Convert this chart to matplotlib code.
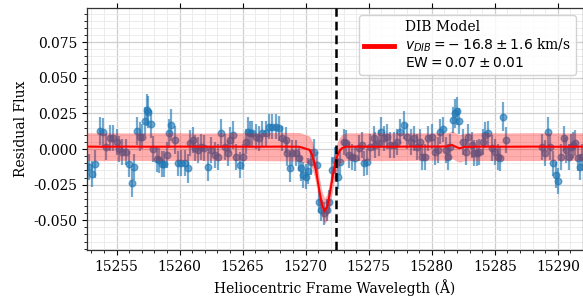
import numpy as np
import matplotlib
matplotlib.use("Agg")
import matplotlib.pyplot as plt
from matplotlib.ticker import MultipleLocator, FormatStrFormatter

# residual flux data points
wave = [15252.80, 15253.07, 15253.28, 15253.68, 15253.94, 15254.15, 15254.47, 15254.73,
        15255.00, 15255.20, 15255.44, 15255.71, 15255.97, 15256.19, 15256.40, 15256.59,
        15256.85, 15257.03, 15257.24, 15257.40, 15257.50, 15257.72, 15257.90, 15258.17,
        15258.35, 15258.57, 15258.77, 15258.96, 15259.15, 15259.33, 15259.60, 15259.86,
        15260.12, 15260.39, 15260.65, 15260.85, 15261.05, 15261.18, 15261.44, 15261.71,
        15261.97, 15262.24, 15262.50, 15262.77, 15263.03, 15263.29, 15263.56, 15263.82,
        15263.96, 15264.22, 15264.48, 15264.75, 15265.01, 15265.27, 15265.41, 15265.62,
        15265.78, 15266.04, 15266.30, 15266.57, 15266.83, 15267.10, 15267.36, 15267.63,
        15267.89, 15268.16, 15268.42, 15268.55, 15268.76, 15268.95, 15269.21, 15269.47,
        15269.61, 15269.82, 15270.00, 15270.19, 15270.40, 15270.66, 15270.93, 15271.06,
        15271.25, 15271.45, 15271.67, 15271.85, 15272.12, 15272.30, 15272.54, 15272.75,
        15273.02, 15273.23, 15273.41, 15273.67, 15273.94, 15274.20, 15274.47, 15274.66,
        15274.86, 15275.13, 15275.39, 15275.53, 15275.79, 15275.97, 15276.19, 15276.45,
        15276.72, 15276.98, 15277.24, 15277.45, 15277.83, 15278.03, 15278.35, 15278.62,
        15278.82, 15279.06, 15279.20, 15279.46, 15279.73, 15279.99, 15280.25, 15280.52,
        15280.65, 15280.86, 15281.12, 15281.31, 15281.44, 15281.65, 15281.84, 15282.02,
        15282.19, 15282.50, 15282.71, 15282.90, 15283.16, 15283.34, 15283.56, 15283.77,
        15284.03, 15284.22, 15284.48, 15284.75, 15285.01, 15285.28, 15285.45, 15285.64,
        15285.91,
        15288.76, 15288.97, 15289.21, 15289.40, 15289.60, 15289.82, 15290.03, 15290.27,
        15290.48, 15290.67, 15290.87, 15291.06, 15291.24, 15291.40, 15291.58, 15291.77,
        15291.93]

flux = [-0.0124, -0.0176, -0.0105, 0.0126, 0.0120, 0.0016, 0.0077, 0.0077,
        0.0050, 0.0000, -0.0020, -0.0020, -0.0105, -0.0237, -0.0124, 0.0126,
        0.0087, 0.0087, 0.0197, 0.0274, 0.0260, 0.0176, 0.0000, -0.0070,
        -0.0080, -0.0105, -0.0105, -0.0040, 0.0110, 0.0169, 0.0063, -0.0101,
        -0.0098, -0.0098, -0.0136, 0.0040, 0.0063, 0.0005, -0.0007, 0.0016,
        0.0005, -0.0124, -0.0007, -0.0042, -0.0054, 0.0110, 0.0016, -0.0030,
        0.0063, 0.0098, -0.0054, -0.0112, -0.0054, 0.0052, 0.0122, 0.0110,
        0.0110, 0.0087, 0.0075, 0.0110, 0.0110, 0.0157, 0.0157, 0.0157,
        0.0145, 0.0075, 0.0063, -0.0030, -0.0131, -0.0030, -0.0030, -0.0066,
        -0.0136, -0.0183, -0.0194, -0.0154, -0.0089, -0.0019, -0.0112, -0.0370,
        -0.0428, -0.0452, -0.0428, -0.0370, -0.0147, -0.0077, -0.0194, -0.0089,
        0.0051, 0.0040, -0.0042, -0.0054, -0.0066, 0.0005, 0.0028, -0.0101,
        -0.0089, 0.0016, 0.0075, 0.0028, 0.0040, 0.0122, 0.0075, 0.0087,
        0.0028, 0.0028, 0.0051, 0.0122, 0.0169, 0.0087, 0.0051, 0.0075,
        0.0016, 0.0051, -0.0054, -0.0054, 0.0075, 0.0087, -0.0019, -0.0007,
        0.0122, 0.0138, -0.0007, -0.0054, 0.0016, 0.0204, 0.0251, 0.0267,
        0.0197, 0.0051, -0.0019, 0.0087, 0.0028, -0.0030, -0.0030, -0.0019,
        0.0051, 0.0098, 0.0110, 0.0005, -0.0019, -0.0054, -0.0066, 0.0227,
        0.0063,
        0.0016, -0.0030, 0.0122, 0.0016, -0.0101, -0.0183, -0.0225, -0.0054,
        0.0075, -0.0007, -0.0054, 0.0016, 0.0028, 0.0040, -0.0066, -0.0124,
        -0.0054]

flux_err = [0.009, 0.009, 0.010, 0.010, 0.010, 0.009, 0.009, 0.009,
            0.009, 0.009, 0.009, 0.009, 0.009, 0.010, 0.009, 0.010,
            0.010, 0.009, 0.010, 0.011, 0.011, 0.010, 0.009, 0.009,
            0.009, 0.009, 0.009, 0.009, 0.010, 0.011, 0.010, 0.009,
            0.009, 0.009, 0.010, 0.009, 0.009, 0.009, 0.009, 0.009,
            0.009, 0.010, 0.009, 0.009, 0.009, 0.010, 0.009, 0.009,
            0.009, 0.010, 0.009, 0.009, 0.009, 0.009, 0.010, 0.009,
            0.009, 0.009, 0.009, 0.009, 0.009, 0.009, 0.009, 0.009,
            0.009, 0.009, 0.009, 0.009, 0.010, 0.009, 0.009, 0.009,
            0.009, 0.009, 0.009, 0.009, 0.009, 0.009, 0.009, 0.008,
            0.008, 0.008, 0.008, 0.008, 0.009, 0.009, 0.009, 0.009,
            0.009, 0.009, 0.009, 0.009, 0.009, 0.009, 0.009, 0.009,
            0.009, 0.009, 0.009, 0.009, 0.009, 0.010, 0.009, 0.009,
            0.009, 0.009, 0.009, 0.009, 0.010, 0.009, 0.009, 0.009,
            0.009, 0.009, 0.009, 0.009, 0.009, 0.009, 0.009, 0.009,
            0.009, 0.009, 0.009, 0.009, 0.009, 0.009, 0.010, 0.010,
            0.009, 0.009, 0.009, 0.009, 0.009, 0.009, 0.009, 0.009,
            0.009, 0.009, 0.009, 0.009, 0.009, 0.009, 0.009, 0.010,
            0.009,
            0.009, 0.009, 0.010, 0.009, 0.009, 0.009, 0.009, 0.009,
            0.009, 0.009, 0.009, 0.009, 0.009, 0.009, 0.009, 0.009,
            0.009]

# DIB model curve and its spread, sampled from the figure
model_wave = [15252.6, 15254.0, 15256.0, 15258.0, 15260.0, 15262.0, 15264.0, 15266.0,
              15268.0, 15269.5, 15270.3, 15270.5, 15270.7, 15270.9, 15271.1, 15271.3,
              15271.5, 15271.7, 15271.9, 15272.1, 15272.3, 15272.5, 15272.7, 15272.9,
              15273.2, 15274.0, 15276.0, 15278.0, 15280.0, 15281.2, 15281.6, 15281.9,
              15282.2, 15282.6, 15284.0, 15286.0, 15288.0, 15290.0, 15292.2]
model_flux = [0.0017, 0.0016, 0.0017, 0.0016, 0.0017, 0.0016, 0.0017, 0.0016,
              0.0017, 0.0016, -0.0006, -0.0040, -0.0101, -0.0193, -0.0301, -0.0393,
              -0.0435, -0.0407, -0.0322, -0.0214, -0.0117, -0.0049, -0.0011, 0.0007,
              0.0016, 0.0017, 0.0016, 0.0017, 0.0017, 0.0018, 0.0028, 0.0016,
              0.0005, 0.0015, 0.0017, 0.0016, 0.0017, 0.0016, 0.0017]
model_spread = [0.0097, 0.0098, 0.0096, 0.0098, 0.0097, 0.0096, 0.0098, 0.0097,
                0.0100, 0.0100, 0.0098, 0.0096, 0.0094, 0.0092, 0.0090, 0.0090,
                0.0090, 0.0090, 0.0090, 0.0092, 0.0094, 0.0094, 0.0095, 0.0096,
                0.0097, 0.0097, 0.0098, 0.0097, 0.0096, 0.0097, 0.0097, 0.0097,
                0.0097, 0.0097, 0.0098, 0.0097, 0.0098, 0.0097, 0.0097]

dib_center = 15272.38
v_dib, v_err = -16.8, 1.6
ew, ew_err = 0.07, 0.01

plt.rcParams['font.family'] = 'DejaVu Serif'
plt.rcParams['mathtext.fontset'] = 'dejavusans'
plt.rcParams['font.size'] = 10

fig = plt.figure(figsize=(5.83, 2.97), dpi=100)
ax = fig.add_axes([0.1492, 0.1582, 0.8508, 0.8149])

ax.errorbar(wave, flux, yerr=flux_err, fmt='o', color='C0', ms=4.7,
            elinewidth=1.6, alpha=0.62, zorder=2)
lo = np.array(model_flux) - np.array(model_spread)
hi = np.array(model_flux) + np.array(model_spread)
ax.fill_between(model_wave, lo, hi, color='red', alpha=0.32, lw=0, zorder=3)

# the original shows the minus as a binary operator, with space on both sides
v_txt = r'$v_{DIB} = -\:%.1f \pm %.1f$ km/s' % (abs(v_dib), v_err)
ew_txt = r'$\mathrm{EW} = %.2f \pm %.2f$' % (ew, ew_err)
label = 'DIB Model\n' + v_txt + '\n' + ew_txt
ax.plot(model_wave, model_flux, color='red', lw=1.5, zorder=4, label=label)
ax.axvline(dib_center, color='black', ls=(0, (3.5, 2)), lw=1.8, zorder=5)

ax.set_xlim(15252.65, 15292.0)
ax.set_ylim(-0.0709, 0.0990)
ax.xaxis.set_major_locator(MultipleLocator(5))
ax.xaxis.set_minor_locator(MultipleLocator(1))
ax.yaxis.set_major_locator(MultipleLocator(0.025))
ax.yaxis.set_minor_locator(MultipleLocator(0.005))
ax.ticklabel_format(useOffset=False, axis='x')
ax.yaxis.set_major_formatter(FormatStrFormatter('%.3f'))

ax.grid(True, which='major', color='#cfcfcf', lw=0.9, zorder=0)
ax.grid(True, which='minor', color='#ececec', lw=0.7, zorder=0)
ax.set_axisbelow(True)
ax.tick_params(which='major', direction='out', length=3.5, top=True, labelsize=10)
ax.tick_params(which='minor', direction='out', length=2)
ax.tick_params(axis='x', which='minor', top=False)
for s in ax.spines.values():
    s.set_color('#333333')
    s.set_linewidth(0.9)

ax.set_xlabel('Heliocentric Frame Wavelegth (Å)', fontsize=10)
ax.set_ylabel('Residual Flux', fontsize=10)

leg = ax.legend(loc='upper right', fontsize=10, handlelength=2.2,
                borderpad=0.35, framealpha=0.85, edgecolor='#cccccc')
for t in leg.get_texts():
    t.set_multialignment('left')
for h in leg.get_lines():
    h.set_linewidth(3.5)

fig.savefig('out.png', dpi=100)
